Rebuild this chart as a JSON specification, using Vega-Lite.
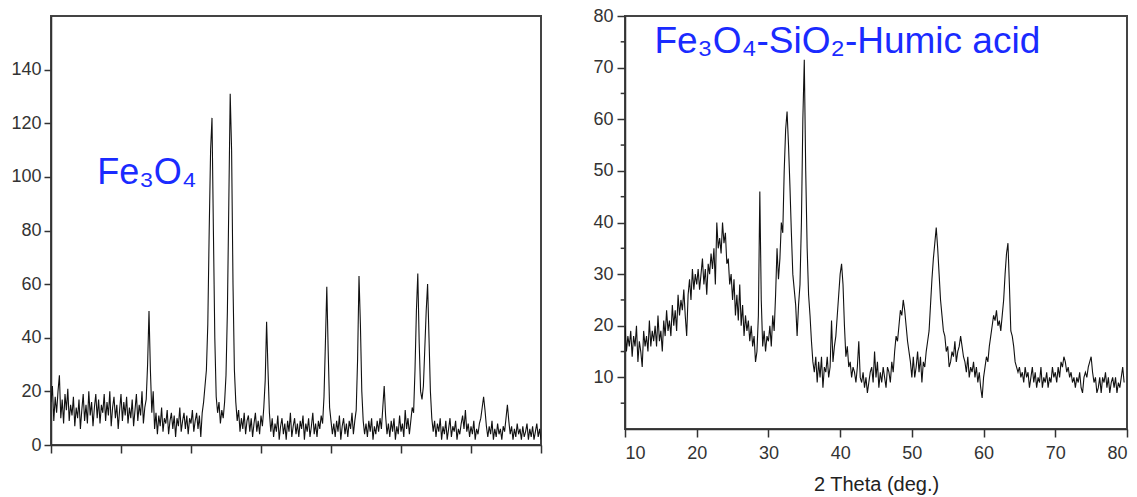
{
"$schema":"https://vega.github.io/schema/vega-lite/v6.json",
"padding":{"left":9,"top":6,"right":5,"bottom":0},
"autosize":{"type":"pad"},
"background":"white",
"config":{"view":{"stroke":"#444","strokeWidth":2},"concat":{"spacing":48},
"axis":{"grid":false,"domainColor":"#333","domainWidth":1.5,"tickColor":"#333","tickWidth":1.5,"labelFont":"Liberation Sans","labelFontSize":18,"labelColor":"#333","labelOverlap":false,"titleFont":"Liberation Sans","titleFontWeight":"normal","titleColor":"#222","titleFontSize":20}},
"datasets":{
"fe":[{"t":10.0,"c":16},{"t":10.2,"c":22},{"t":10.4,"c":9},{"t":10.6,"c":18},{"t":10.8,"c":12},{"t":11.0,"c":20},{"t":11.2,"c":26},{"t":11.4,"c":10},{"t":11.6,"c":17},{"t":11.8,"c":8},{"t":12.0,"c":19},{"t":12.2,"c":13},{"t":12.4,"c":21},{"t":12.6,"c":9},{"t":12.8,"c":15},{"t":13.0,"c":11},{"t":13.2,"c":18},{"t":13.4,"c":7},{"t":13.6,"c":14},{"t":13.8,"c":10},{"t":14.0,"c":17},{"t":14.2,"c":6},{"t":14.4,"c":13},{"t":14.6,"c":19},{"t":14.8,"c":9},{"t":15.0,"c":15},{"t":15.2,"c":8},{"t":15.4,"c":20},{"t":15.6,"c":11},{"t":15.8,"c":16},{"t":16.0,"c":7},{"t":16.2,"c":14},{"t":16.4,"c":19},{"t":16.6,"c":10},{"t":16.8,"c":17},{"t":17.0,"c":8},{"t":17.2,"c":15},{"t":17.4,"c":12},{"t":17.6,"c":19},{"t":17.8,"c":9},{"t":18.0,"c":16},{"t":18.2,"c":11},{"t":18.4,"c":20},{"t":18.6,"c":7},{"t":18.8,"c":14},{"t":19.0,"c":18},{"t":19.2,"c":10},{"t":19.4,"c":15},{"t":19.6,"c":6},{"t":19.8,"c":13},{"t":20.0,"c":19},{"t":20.2,"c":9},{"t":20.4,"c":16},{"t":20.6,"c":11},{"t":20.8,"c":18},{"t":21.0,"c":8},{"t":21.2,"c":14},{"t":21.4,"c":10},{"t":21.6,"c":17},{"t":21.8,"c":7},{"t":22.0,"c":13},{"t":22.2,"c":19},{"t":22.4,"c":9},{"t":22.6,"c":15},{"t":22.8,"c":11},{"t":23.0,"c":20},{"t":23.2,"c":8},{"t":23.4,"c":14},{"t":23.6,"c":17},{"t":23.8,"c":30},{"t":24.0,"c":50},{"t":24.2,"c":28},{"t":24.4,"c":12},{"t":24.6,"c":20},{"t":24.8,"c":6},{"t":25.0,"c":12},{"t":25.2,"c":4},{"t":25.4,"c":11},{"t":25.6,"c":7},{"t":25.8,"c":14},{"t":26.0,"c":5},{"t":26.2,"c":10},{"t":26.4,"c":8},{"t":26.6,"c":13},{"t":26.8,"c":4},{"t":27.0,"c":9},{"t":27.2,"c":12},{"t":27.4,"c":6},{"t":27.6,"c":11},{"t":27.8,"c":3},{"t":28.0,"c":10},{"t":28.2,"c":7},{"t":28.4,"c":14},{"t":28.6,"c":5},{"t":28.8,"c":9},{"t":29.0,"c":12},{"t":29.2,"c":6},{"t":29.4,"c":11},{"t":29.6,"c":4},{"t":29.8,"c":10},{"t":30.0,"c":8},{"t":30.2,"c":13},{"t":30.4,"c":5},{"t":30.6,"c":9},{"t":30.8,"c":12},{"t":31.0,"c":6},{"t":31.2,"c":11},{"t":31.4,"c":3},{"t":31.6,"c":12},{"t":31.8,"c":16},{"t":32.0,"c":22},{"t":32.2,"c":28},{"t":32.4,"c":45},{"t":32.6,"c":80},{"t":32.8,"c":110},{"t":33.0,"c":122},{"t":33.2,"c":80},{"t":33.4,"c":40},{"t":33.6,"c":18},{"t":33.8,"c":12},{"t":34.0,"c":16},{"t":34.2,"c":8},{"t":34.4,"c":13},{"t":34.6,"c":10},{"t":34.8,"c":16},{"t":35.0,"c":26},{"t":35.2,"c":50},{"t":35.4,"c":90},{"t":35.6,"c":131},{"t":35.8,"c":110},{"t":36.0,"c":60},{"t":36.2,"c":28},{"t":36.4,"c":16},{"t":36.6,"c":9},{"t":36.8,"c":13},{"t":37.0,"c":5},{"t":37.2,"c":10},{"t":37.4,"c":6},{"t":37.6,"c":12},{"t":37.8,"c":4},{"t":38.0,"c":9},{"t":38.2,"c":11},{"t":38.4,"c":5},{"t":38.6,"c":10},{"t":38.8,"c":3},{"t":39.0,"c":8},{"t":39.2,"c":12},{"t":39.4,"c":5},{"t":39.6,"c":9},{"t":39.8,"c":4},{"t":40.0,"c":11},{"t":40.2,"c":7},{"t":40.4,"c":14},{"t":40.6,"c":24},{"t":40.8,"c":46},{"t":41.0,"c":28},{"t":41.2,"c":12},{"t":41.4,"c":5},{"t":41.6,"c":10},{"t":41.8,"c":3},{"t":42.0,"c":8},{"t":42.2,"c":5},{"t":42.4,"c":11},{"t":42.6,"c":2},{"t":42.8,"c":7},{"t":43.0,"c":10},{"t":43.2,"c":4},{"t":43.4,"c":8},{"t":43.6,"c":2},{"t":43.8,"c":9},{"t":44.0,"c":5},{"t":44.2,"c":12},{"t":44.4,"c":3},{"t":44.6,"c":7},{"t":44.8,"c":10},{"t":45.0,"c":4},{"t":45.2,"c":8},{"t":45.4,"c":3},{"t":45.6,"c":9},{"t":45.8,"c":6},{"t":46.0,"c":11},{"t":46.2,"c":2},{"t":46.4,"c":8},{"t":46.6,"c":5},{"t":46.8,"c":10},{"t":47.0,"c":3},{"t":47.2,"c":7},{"t":47.4,"c":12},{"t":47.6,"c":4},{"t":47.8,"c":8},{"t":48.0,"c":3},{"t":48.2,"c":9},{"t":48.4,"c":6},{"t":48.6,"c":11},{"t":48.8,"c":8},{"t":49.0,"c":18},{"t":49.2,"c":38},{"t":49.4,"c":59},{"t":49.6,"c":35},{"t":49.8,"c":14},{"t":50.0,"c":9},{"t":50.2,"c":4},{"t":50.4,"c":8},{"t":50.6,"c":3},{"t":50.8,"c":9},{"t":51.0,"c":5},{"t":51.2,"c":11},{"t":51.4,"c":2},{"t":51.6,"c":7},{"t":51.8,"c":10},{"t":52.0,"c":4},{"t":52.2,"c":8},{"t":52.4,"c":3},{"t":52.6,"c":9},{"t":52.8,"c":6},{"t":53.0,"c":12},{"t":53.2,"c":4},{"t":53.4,"c":9},{"t":53.6,"c":13},{"t":53.8,"c":32},{"t":54.0,"c":63},{"t":54.2,"c":45},{"t":54.4,"c":20},{"t":54.6,"c":9},{"t":54.8,"c":4},{"t":55.0,"c":8},{"t":55.2,"c":3},{"t":55.4,"c":9},{"t":55.6,"c":5},{"t":55.8,"c":10},{"t":56.0,"c":2},{"t":56.2,"c":7},{"t":56.4,"c":4},{"t":56.6,"c":9},{"t":56.8,"c":5},{"t":57.0,"c":10},{"t":57.2,"c":6},{"t":57.4,"c":14},{"t":57.6,"c":22},{"t":57.8,"c":11},{"t":58.0,"c":4},{"t":58.2,"c":8},{"t":58.4,"c":3},{"t":58.6,"c":9},{"t":58.8,"c":5},{"t":59.0,"c":10},{"t":59.2,"c":2},{"t":59.4,"c":7},{"t":59.6,"c":4},{"t":59.8,"c":11},{"t":60.0,"c":5},{"t":60.2,"c":8},{"t":60.4,"c":3},{"t":60.6,"c":13},{"t":60.8,"c":6},{"t":61.0,"c":10},{"t":61.2,"c":4},{"t":61.4,"c":9},{"t":61.6,"c":14},{"t":61.8,"c":12},{"t":62.0,"c":28},{"t":62.2,"c":50},{"t":62.4,"c":64},{"t":62.6,"c":38},{"t":62.8,"c":20},{"t":63.0,"c":17},{"t":63.2,"c":22},{"t":63.4,"c":36},{"t":63.6,"c":50},{"t":63.8,"c":60},{"t":64.0,"c":40},{"t":64.2,"c":20},{"t":64.4,"c":10},{"t":64.6,"c":5},{"t":64.8,"c":9},{"t":65.0,"c":3},{"t":65.2,"c":8},{"t":65.4,"c":5},{"t":65.6,"c":10},{"t":65.8,"c":2},{"t":66.0,"c":7},{"t":66.2,"c":4},{"t":66.4,"c":9},{"t":66.6,"c":2},{"t":66.8,"c":6},{"t":67.0,"c":10},{"t":67.2,"c":3},{"t":67.4,"c":7},{"t":67.6,"c":5},{"t":67.8,"c":9},{"t":68.0,"c":2},{"t":68.2,"c":6},{"t":68.4,"c":4},{"t":68.6,"c":8},{"t":68.8,"c":11},{"t":69.0,"c":6},{"t":69.2,"c":13},{"t":69.4,"c":5},{"t":69.6,"c":8},{"t":69.8,"c":3},{"t":70.0,"c":7},{"t":70.2,"c":4},{"t":70.4,"c":9},{"t":70.6,"c":2},{"t":70.8,"c":6},{"t":71.0,"c":4},{"t":71.2,"c":8},{"t":71.4,"c":10},{"t":71.6,"c":14},{"t":71.8,"c":18},{"t":72.0,"c":13},{"t":72.2,"c":7},{"t":72.4,"c":3},{"t":72.6,"c":7},{"t":72.8,"c":4},{"t":73.0,"c":9},{"t":73.2,"c":2},{"t":73.4,"c":6},{"t":73.6,"c":3},{"t":73.8,"c":8},{"t":74.0,"c":4},{"t":74.2,"c":6},{"t":74.4,"c":2},{"t":74.6,"c":7},{"t":74.8,"c":5},{"t":75.0,"c":10},{"t":75.2,"c":15},{"t":75.4,"c":9},{"t":75.6,"c":4},{"t":75.8,"c":7},{"t":76.0,"c":2},{"t":76.2,"c":6},{"t":76.4,"c":3},{"t":76.6,"c":8},{"t":76.8,"c":4},{"t":77.0,"c":6},{"t":77.2,"c":2},{"t":77.4,"c":7},{"t":77.6,"c":3},{"t":77.8,"c":5},{"t":78.0,"c":8},{"t":78.2,"c":2},{"t":78.4,"c":6},{"t":78.6,"c":3},{"t":78.8,"c":7},{"t":79.0,"c":2},{"t":79.2,"c":5},{"t":79.4,"c":8},{"t":79.6,"c":3},{"t":79.8,"c":6},{"t":80.0,"c":2}],
"fsh":[{"t":10.0,"c":20},{"t":10.2,"c":15},{"t":10.4,"c":18},{"t":10.6,"c":16},{"t":10.8,"c":19},{"t":11.0,"c":14},{"t":11.2,"c":18},{"t":11.4,"c":16},{"t":11.6,"c":20},{"t":11.8,"c":13},{"t":12.0,"c":17},{"t":12.2,"c":15},{"t":12.4,"c":12},{"t":12.6,"c":19},{"t":12.8,"c":16},{"t":13.0,"c":18},{"t":13.2,"c":15},{"t":13.4,"c":21},{"t":13.6,"c":16},{"t":13.8,"c":19},{"t":14.0,"c":17},{"t":14.2,"c":20},{"t":14.4,"c":16},{"t":14.6,"c":22},{"t":14.8,"c":17},{"t":15.0,"c":19},{"t":15.2,"c":15},{"t":15.4,"c":21},{"t":15.6,"c":18},{"t":15.8,"c":23},{"t":16.0,"c":19},{"t":16.2,"c":21},{"t":16.4,"c":18},{"t":16.6,"c":24},{"t":16.8,"c":20},{"t":17.0,"c":23},{"t":17.2,"c":19},{"t":17.4,"c":26},{"t":17.6,"c":22},{"t":17.8,"c":25},{"t":18.0,"c":23},{"t":18.2,"c":27},{"t":18.4,"c":22},{"t":18.6,"c":18},{"t":18.8,"c":26},{"t":19.0,"c":29},{"t":19.2,"c":25},{"t":19.4,"c":31},{"t":19.6,"c":27},{"t":19.8,"c":30},{"t":20.0,"c":28},{"t":20.2,"c":31},{"t":20.4,"c":27},{"t":20.6,"c":30},{"t":20.8,"c":33},{"t":21.0,"c":28},{"t":21.2,"c":31},{"t":21.4,"c":26},{"t":21.6,"c":32},{"t":21.8,"c":30},{"t":22.0,"c":34},{"t":22.2,"c":31},{"t":22.4,"c":35},{"t":22.6,"c":28},{"t":22.8,"c":40},{"t":23.0,"c":35},{"t":23.2,"c":37},{"t":23.4,"c":34},{"t":23.6,"c":40},{"t":23.8,"c":36},{"t":24.0,"c":38},{"t":24.2,"c":32},{"t":24.4,"c":33},{"t":24.6,"c":28},{"t":24.8,"c":30},{"t":25.0,"c":25},{"t":25.2,"c":29},{"t":25.4,"c":22},{"t":25.6,"c":26},{"t":25.8,"c":21},{"t":26.0,"c":28},{"t":26.2,"c":20},{"t":26.4,"c":24},{"t":26.6,"c":18},{"t":26.8,"c":22},{"t":27.0,"c":19},{"t":27.2,"c":21},{"t":27.4,"c":17},{"t":27.6,"c":20},{"t":27.8,"c":16},{"t":28.0,"c":18},{"t":28.2,"c":13},{"t":28.4,"c":15},{"t":28.6,"c":22},{"t":28.8,"c":46},{"t":29.0,"c":25},{"t":29.2,"c":16},{"t":29.4,"c":19},{"t":29.6,"c":15},{"t":29.8,"c":18},{"t":30.0,"c":17},{"t":30.2,"c":20},{"t":30.4,"c":16},{"t":30.6,"c":22},{"t":30.8,"c":19},{"t":31.0,"c":26},{"t":31.2,"c":35},{"t":31.4,"c":29},{"t":31.6,"c":33},{"t":31.8,"c":40},{"t":32.0,"c":38},{"t":32.2,"c":50},{"t":32.4,"c":58},{"t":32.6,"c":61.5},{"t":32.8,"c":55},{"t":33.0,"c":47},{"t":33.2,"c":38},{"t":33.4,"c":30},{"t":33.6,"c":27},{"t":33.8,"c":24},{"t":34.0,"c":18},{"t":34.2,"c":24},{"t":34.4,"c":28},{"t":34.6,"c":40},{"t":34.8,"c":60},{"t":35.0,"c":71.5},{"t":35.2,"c":50},{"t":35.4,"c":35},{"t":35.6,"c":26},{"t":35.8,"c":22},{"t":36.0,"c":17},{"t":36.2,"c":13},{"t":36.4,"c":11},{"t":36.6,"c":14},{"t":36.8,"c":9},{"t":37.0,"c":13},{"t":37.2,"c":10},{"t":37.4,"c":14},{"t":37.6,"c":8},{"t":37.8,"c":12},{"t":38.0,"c":11},{"t":38.2,"c":14},{"t":38.4,"c":10},{"t":38.6,"c":12},{"t":38.8,"c":21},{"t":39.0,"c":13},{"t":39.2,"c":16},{"t":39.4,"c":18},{"t":39.6,"c":22},{"t":39.8,"c":26},{"t":40.0,"c":30},{"t":40.2,"c":32},{"t":40.4,"c":28},{"t":40.6,"c":20},{"t":40.8,"c":14},{"t":41.0,"c":16},{"t":41.2,"c":12},{"t":41.4,"c":13},{"t":41.6,"c":10},{"t":41.8,"c":12},{"t":42.0,"c":11},{"t":42.2,"c":9},{"t":42.4,"c":12},{"t":42.6,"c":17},{"t":42.8,"c":10},{"t":43.0,"c":9},{"t":43.2,"c":11},{"t":43.4,"c":8},{"t":43.6,"c":10},{"t":43.8,"c":7},{"t":44.0,"c":9},{"t":44.2,"c":11},{"t":44.4,"c":12},{"t":44.6,"c":9},{"t":44.8,"c":15},{"t":45.0,"c":10},{"t":45.2,"c":13},{"t":45.4,"c":8},{"t":45.6,"c":11},{"t":45.8,"c":9},{"t":46.0,"c":12},{"t":46.2,"c":10},{"t":46.4,"c":8},{"t":46.6,"c":12},{"t":46.8,"c":11},{"t":47.0,"c":9},{"t":47.2,"c":13},{"t":47.4,"c":11},{"t":47.6,"c":15},{"t":47.8,"c":18},{"t":48.0,"c":17},{"t":48.2,"c":20},{"t":48.4,"c":23},{"t":48.6,"c":22},{"t":48.8,"c":25},{"t":49.0,"c":23},{"t":49.2,"c":20},{"t":49.4,"c":17},{"t":49.6,"c":15},{"t":49.8,"c":13},{"t":50.0,"c":10},{"t":50.2,"c":14},{"t":50.4,"c":10},{"t":50.6,"c":12},{"t":50.8,"c":15},{"t":51.0,"c":11},{"t":51.2,"c":14},{"t":51.4,"c":9},{"t":51.6,"c":13},{"t":51.8,"c":12},{"t":52.0,"c":15},{"t":52.2,"c":17},{"t":52.4,"c":19},{"t":52.6,"c":24},{"t":52.8,"c":29},{"t":53.0,"c":33},{"t":53.2,"c":36},{"t":53.4,"c":39},{"t":53.6,"c":35},{"t":53.8,"c":30},{"t":54.0,"c":25},{"t":54.2,"c":22},{"t":54.4,"c":19},{"t":54.6,"c":18},{"t":54.8,"c":15},{"t":55.0,"c":16},{"t":55.2,"c":12},{"t":55.4,"c":13},{"t":55.6,"c":15},{"t":55.8,"c":14},{"t":56.0,"c":17},{"t":56.2,"c":13},{"t":56.4,"c":15},{"t":56.6,"c":16},{"t":56.8,"c":18},{"t":57.0,"c":16},{"t":57.2,"c":14},{"t":57.4,"c":13},{"t":57.6,"c":11},{"t":57.8,"c":14},{"t":58.0,"c":10},{"t":58.2,"c":12},{"t":58.4,"c":11},{"t":58.6,"c":13},{"t":58.8,"c":10},{"t":59.0,"c":12},{"t":59.2,"c":9},{"t":59.4,"c":11},{"t":59.6,"c":8},{"t":59.8,"c":6},{"t":60.0,"c":10},{"t":60.2,"c":12},{"t":60.4,"c":14},{"t":60.6,"c":13},{"t":60.8,"c":16},{"t":61.0,"c":18},{"t":61.2,"c":20},{"t":61.4,"c":22},{"t":61.6,"c":21},{"t":61.8,"c":23},{"t":62.0,"c":20},{"t":62.2,"c":21},{"t":62.4,"c":19},{"t":62.6,"c":22},{"t":62.8,"c":25},{"t":63.0,"c":30},{"t":63.2,"c":34},{"t":63.4,"c":36},{"t":63.6,"c":28},{"t":63.8,"c":19},{"t":64.0,"c":18},{"t":64.2,"c":16},{"t":64.4,"c":13},{"t":64.6,"c":12},{"t":64.8,"c":11},{"t":65.0,"c":12},{"t":65.2,"c":10},{"t":65.4,"c":11},{"t":65.6,"c":9},{"t":65.8,"c":12},{"t":66.0,"c":10},{"t":66.2,"c":11},{"t":66.4,"c":8},{"t":66.6,"c":10},{"t":66.8,"c":12},{"t":67.0,"c":9},{"t":67.2,"c":11},{"t":67.4,"c":8},{"t":67.6,"c":10},{"t":67.8,"c":9},{"t":68.0,"c":12},{"t":68.2,"c":8},{"t":68.4,"c":10},{"t":68.6,"c":9},{"t":68.8,"c":11},{"t":69.0,"c":8},{"t":69.2,"c":10},{"t":69.4,"c":9},{"t":69.6,"c":12},{"t":69.8,"c":10},{"t":70.0,"c":11},{"t":70.2,"c":9},{"t":70.4,"c":12},{"t":70.6,"c":10},{"t":70.8,"c":13},{"t":71.0,"c":12},{"t":71.2,"c":14},{"t":71.4,"c":13},{"t":71.6,"c":11},{"t":71.8,"c":12},{"t":72.0,"c":10},{"t":72.2,"c":11},{"t":72.4,"c":9},{"t":72.6,"c":10},{"t":72.8,"c":8},{"t":73.0,"c":10},{"t":73.2,"c":9},{"t":73.4,"c":11},{"t":73.6,"c":8},{"t":73.8,"c":7},{"t":74.0,"c":10},{"t":74.2,"c":11},{"t":74.4,"c":10},{"t":74.6,"c":12},{"t":74.8,"c":13},{"t":75.0,"c":14},{"t":75.2,"c":11},{"t":75.4,"c":9},{"t":75.6,"c":10},{"t":75.8,"c":7},{"t":76.0,"c":8},{"t":76.2,"c":10},{"t":76.4,"c":7},{"t":76.6,"c":10},{"t":76.8,"c":9},{"t":77.0,"c":11},{"t":77.2,"c":8},{"t":77.4,"c":10},{"t":77.6,"c":7},{"t":77.8,"c":9},{"t":78.0,"c":10},{"t":78.2,"c":8},{"t":78.4,"c":10},{"t":78.6,"c":7},{"t":78.8,"c":9},{"t":79.0,"c":8},{"t":79.2,"c":10},{"t":79.4,"c":12},{"t":79.6,"c":9}]
},
"hconcat":[
{"width":490,"height":429,
"layer":[
{"data":{"name":"fe"},"mark":{"type":"line","color":"#111","strokeWidth":1.1,"clip":true},
"encoding":{
"x":{"field":"t","type":"quantitative","scale":{"domain":[10,80]},"axis":{"values":[10,15,20,25,30,35,40,45,50,55,60,65,70,75,80],"labels":false,"title":null,"tickSize":{"condition":{"test":"datum.value % 10 === 0","value":8},"value":5}}},
"y":{"field":"c","type":"quantitative","scale":{"domain":[0,150]},"axis":{"values":[0,10,20,30,40,50,60,70,80,90,100,110,120,130,140],"labelExpr":"datum.value % 20 === 0 ? datum.label : ''","title":null,"labelPadding":3,"tickSize":{"condition":{"test":"datum.value % 20 === 0","value":7},"value":4},"minExtent":40,"maxExtent":40}}}},
{"data":{"values":[{"t":16.6,"c":97.5,"label":"Fe₃O₄"}]},"mark":{"type":"text","align":"left","baseline":"alphabetic","fontSize":36,"font":"Liberation Sans","color":"#1a2bff"},
"encoding":{"x":{"field":"t","type":"quantitative"},"y":{"field":"c","type":"quantitative"},"text":{"field":"label"}}}
]},
{"width":502,"height":413,
"layer":[
{"data":{"name":"fsh"},"mark":{"type":"line","color":"#111","strokeWidth":1.1,"clip":true},
"encoding":{
"x":{"field":"t","type":"quantitative","scale":{"domain":[10,80]},"axis":{"values":[10,15,20,25,30,35,40,45,50,55,60,65,70,75,80],"labelExpr":"datum.value % 10 === 0 ? datum.label : ''","title":"2 Theta (deg.)","titlePadding":12,"labelPadding":7,"tickSize":{"condition":{"test":"datum.value % 10 === 0","value":8},"value":5}}},
"y":{"field":"c","type":"quantitative","scale":{"domain":[5,80]},"axis":{"values":[10,20,30,40,50,60,70,80],"title":null,"labelPadding":4,"tickSize":8,"minExtent":32,"maxExtent":32}}}},
{"data":{"values":[{"m":5},{"m":15},{"m":25},{"m":35},{"m":45},{"m":55},{"m":65},{"m":75}]},"mark":{"type":"rule","color":"#333","strokeWidth":1.5},
"encoding":{"y":{"field":"m","type":"quantitative"},"x":{"datum":9.4},"x2":{"datum":10}}},
{"data":{"values":[{"t":14.1,"c":72.9,"label":"Fe₃O₄-SiO₂-Humic  acid"}]},"mark":{"type":"text","align":"left","baseline":"alphabetic","fontSize":37,"font":"Liberation Sans","color":"#1a2bff"},
"encoding":{"x":{"field":"t","type":"quantitative"},"y":{"field":"c","type":"quantitative"},"text":{"field":"label"}}}
]}
]
}
